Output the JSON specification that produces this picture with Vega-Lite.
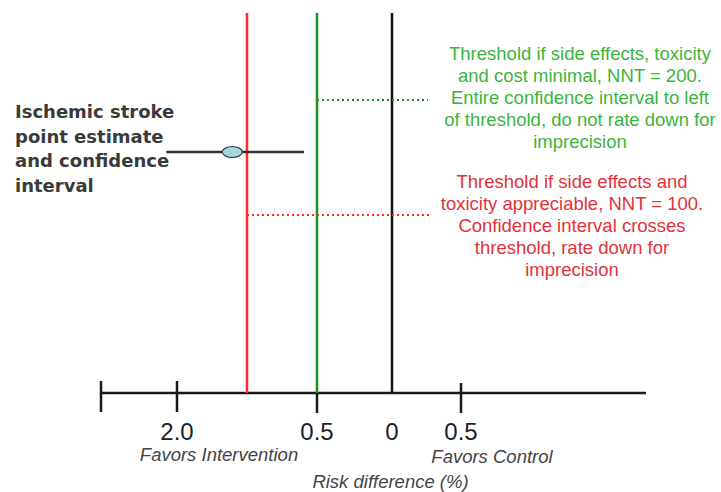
{
  "$schema": "https://vega.github.io/schema/vega-lite/v6.json",
  "width": 721,
  "height": 492,
  "autosize": "none",
  "padding": 0,
  "background": "white",
  "config": {"view": {"stroke": null}},
  "encoding": {
    "x": {"field": "x", "type": "quantitative", "axis": null,
      "scale": {"domain": [-3.2, -2.5, -2, -1, -0.5, 0, 0.5, 2.5, 3.5], "range": [0, 101, 177, 247, 317, 392, 461, 646, 721], "nice": false, "zero": false}},
    "y": {"field": "y", "type": "quantitative", "axis": null,
      "scale": {"domain": [0, 492], "range": [0, 492], "nice": false, "zero": false}}
  },
  "layer": [
    {
      "data": {"values": [
        {"item": "axis", "x": -2.5, "x2": 2.5, "y": 393, "y2": 393},
        {"item": "axis", "x": -2.5, "x2": -2.5, "y": 381, "y2": 412},
        {"item": "axis", "x": -2, "x2": -2, "y": 381, "y2": 412},
        {"item": "axis", "x": -0.5, "x2": -0.5, "y": 393, "y2": 413},
        {"item": "axis", "x": 0.5, "x2": 0.5, "y": 383, "y2": 413},
        {"item": "no effect", "x": 0, "x2": 0, "y": 13, "y2": 393},
        {"item": "NNT 100", "x": -1, "x2": -1, "y": 13, "y2": 393},
        {"item": "NNT 200", "x": -0.5, "x2": -0.5, "y": 13, "y2": 393}
      ]},
      "mark": {"type": "rule", "strokeWidth": 2.5},
      "encoding": {
        "x2": {"field": "x2"},
        "y2": {"field": "y2"},
        "color": {"field": "item", "type": "nominal", "legend": null,
          "scale": {"domain": ["axis", "no effect", "NNT 100", "NNT 200"], "range": ["#1a1a1a", "#111111", "#ff2a2a", "#1f8f1f"]}}
      }
    },
    {
      "data": {"values": [
        {"item": "NNT 200", "x": -0.5, "x2": 0.26, "y": 100},
        {"item": "NNT 100", "x": -1, "x2": 0.29, "y": 215}
      ]},
      "mark": {"type": "rule", "strokeWidth": 2, "strokeDash": [2, 3]},
      "encoding": {
        "x2": {"field": "x2"},
        "color": {"field": "item", "type": "nominal", "legend": null,
          "scale": {"domain": ["NNT 100", "NNT 200"], "range": ["#ff3030", "#2db82d"]}}
      }
    },
    {
      "data": {"values": [{"x": -2.07, "x2": -0.593, "y": 152}]},
      "mark": {"type": "rule", "strokeWidth": 2.5, "color": "#333333"},
      "encoding": {"x2": {"field": "x2"}}
    },
    {
      "data": {"values": [{"x": -1.21, "y": 152}]},
      "mark": {"type": "point", "filled": true, "shape": "M-1,0A1,0.55,0,1,1,1,0A1,0.55,0,1,1,-1,0Z", "size": 400, "fill": "#a9d6de", "stroke": "#2e4a50", "strokeWidth": 1.2, "opacity": 1}
    },
    {
      "data": {"values": [
        {"x": -2, "y": 433, "label": "2.0"},
        {"x": -0.5, "y": 433, "label": "0.5"},
        {"x": 0, "y": 433, "label": "0"},
        {"x": 0.5, "y": 433, "label": "0.5"}
      ]},
      "mark": {"type": "text", "font": "Liberation Sans", "fontSize": 24, "color": "#222222", "align": "center", "baseline": "middle"},
      "encoding": {"text": {"field": "label"}}
    },
    {
      "data": {"values": [
        {"x": -1.4, "y": 455, "label": "Favors Intervention"},
        {"x": 0.835, "y": 457, "label": "Favors Control"},
        {"x": -0.01, "y": 482, "label": "Risk difference (%)"}
      ]},
      "mark": {"type": "text", "font": "Liberation Sans", "fontSize": 18.5, "fontStyle": "italic", "color": "#444444", "align": "center", "baseline": "middle"},
      "encoding": {"text": {"field": "label"}}
    },
    {
      "data": {"values": [
        {"x": -3.096, "y": 113, "label": "Ischemic stroke"},
        {"x": -3.096, "y": 138, "label": "point estimate"},
        {"x": -3.096, "y": 162, "label": "and confidence"},
        {"x": -3.096, "y": 187, "label": "interval"}
      ]},
      "mark": {"type": "text", "font": "DejaVu Sans", "fontWeight": "bold", "fontSize": 18, "color": "#3a3a3a", "align": "left", "baseline": "middle"},
      "encoding": {"text": {"field": "label"}}
    },
    {
      "data": {"values": [
        {"x": 1.786, "y": 54, "label": "Threshold if side effects, toxicity"},
        {"x": 1.786, "y": 76, "label": "and cost minimal, NNT = 200."},
        {"x": 1.786, "y": 98, "label": "Entire confidence interval to left"},
        {"x": 1.786, "y": 120, "label": "of threshold, do not rate down for"},
        {"x": 1.786, "y": 142, "label": "imprecision"}
      ]},
      "mark": {"type": "text", "font": "Liberation Sans", "fontSize": 18.5, "color": "#3cb43c", "align": "center", "baseline": "middle"},
      "encoding": {"text": {"field": "label"}}
    },
    {
      "data": {"values": [
        {"x": 1.7, "y": 182, "label": "Threshold if side effects and"},
        {"x": 1.7, "y": 204, "label": "toxicity appreciable, NNT = 100."},
        {"x": 1.7, "y": 226, "label": "Confidence interval crosses"},
        {"x": 1.7, "y": 248, "label": "threshold, rate down for"},
        {"x": 1.7, "y": 270, "label": "imprecision"}
      ]},
      "mark": {"type": "text", "font": "Liberation Sans", "fontSize": 18.5, "color": "#e2323a", "align": "center", "baseline": "middle"},
      "encoding": {"text": {"field": "label"}}
    }
  ]
}
